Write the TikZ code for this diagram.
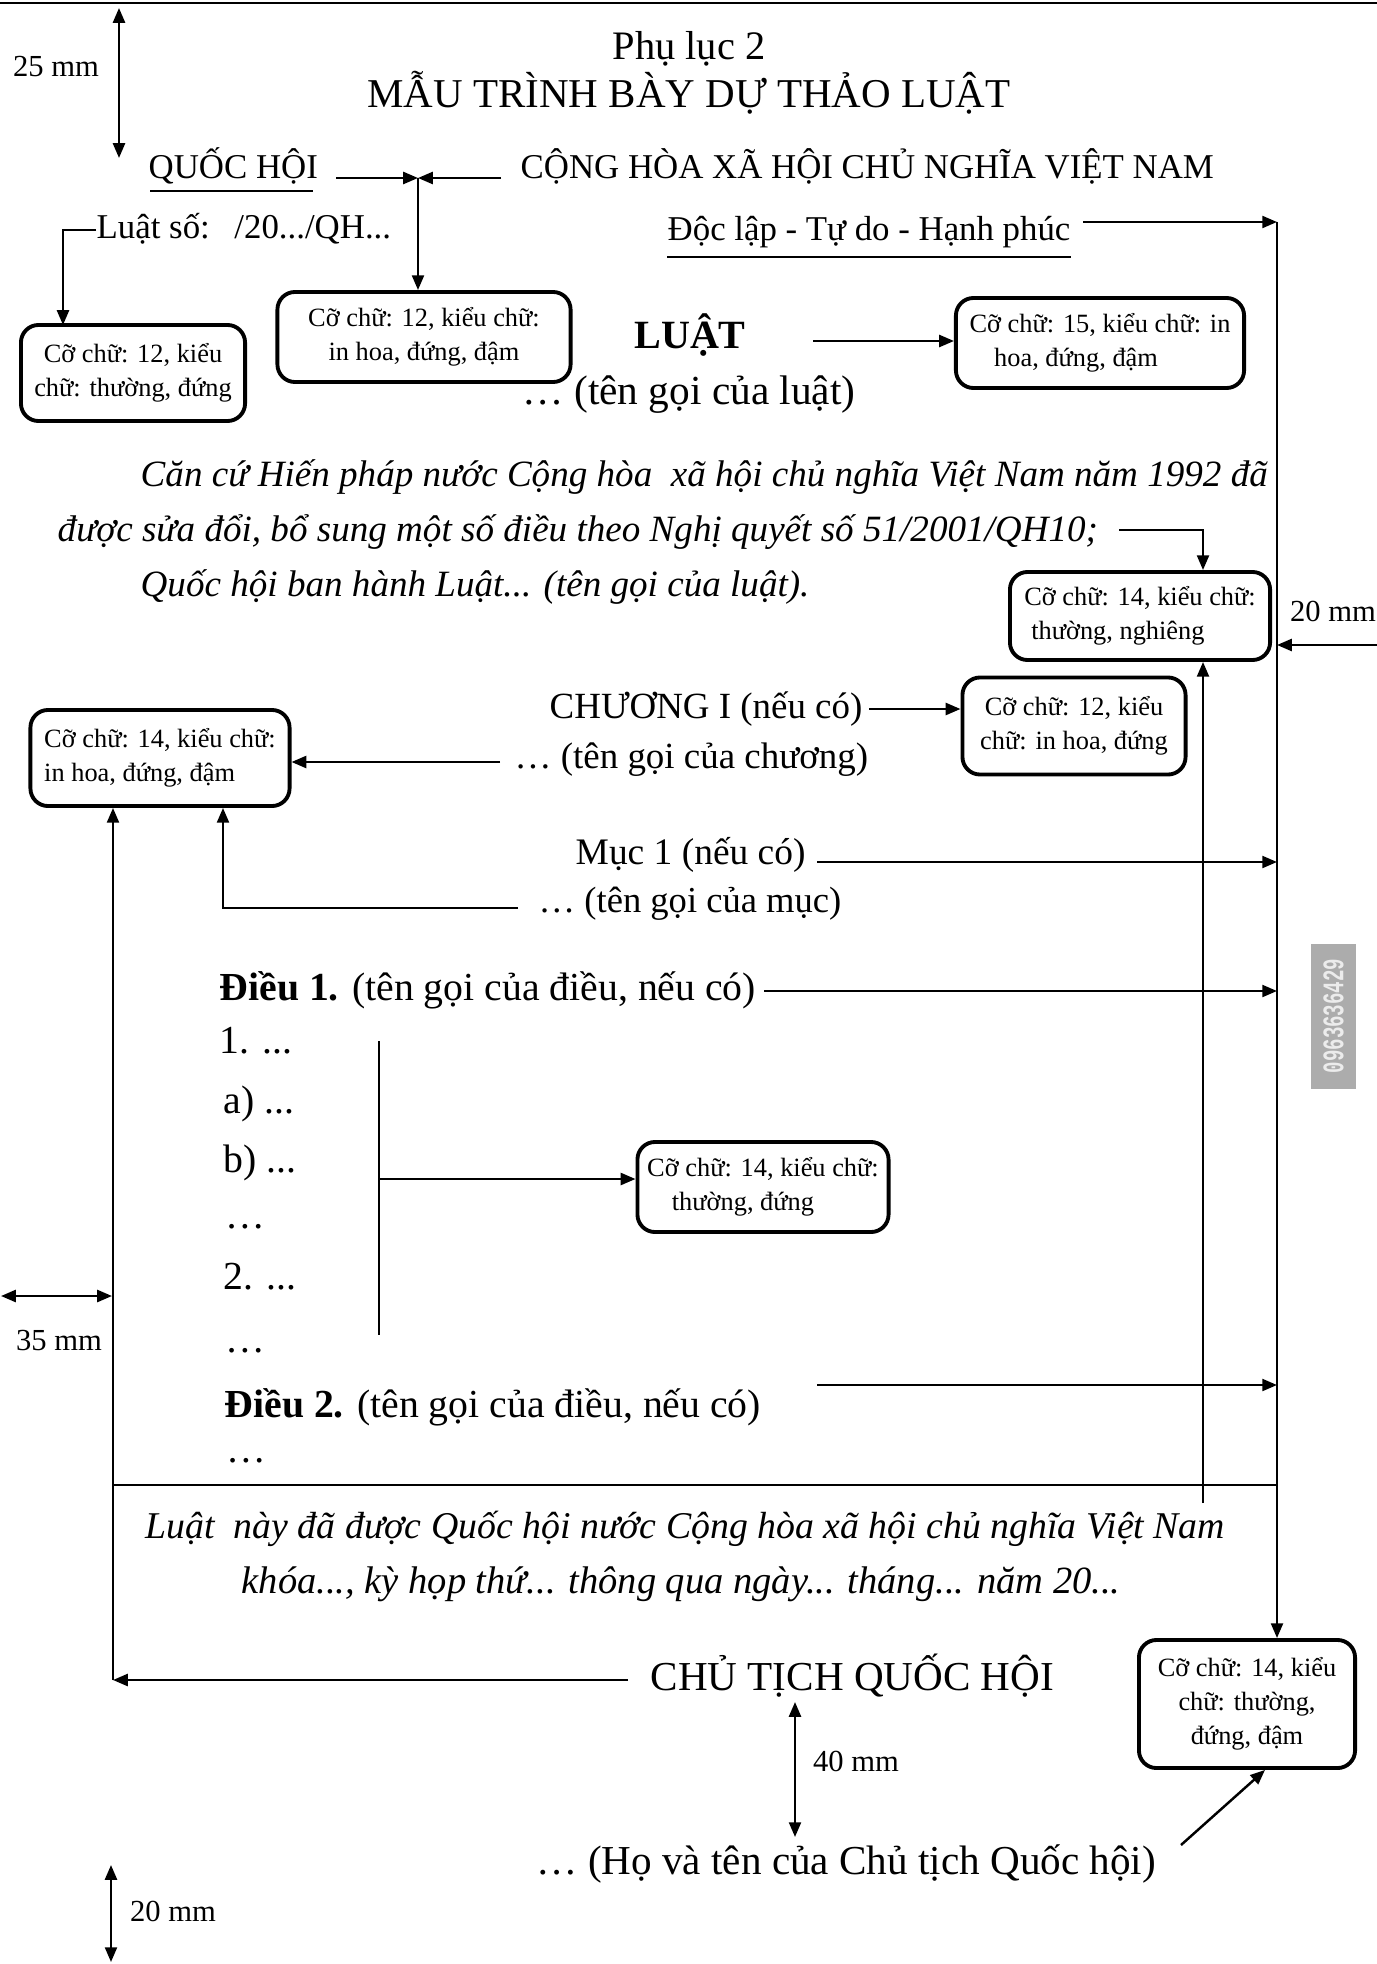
\documentclass[tikz,border=0pt]{standalone}
\usepackage{fontspec}
\usepackage{graphicx}
\setmainfont{Liberation Serif}
\newfontfamily\wmfont{Liberation Mono}
\usetikzlibrary{arrows.meta}
\begin{document}
\begin{tikzpicture}[x=0.01cm,y=-0.01cm,
  >={Triangle[length=4.2pt,width=3.4pt]},
  arr/.style={line width=0.7pt,->},
  darr/.style={line width=0.7pt,<->},
  ln/.style={line width=0.7pt},
  cbox/.style={draw,line width=1.1pt,rounded corners=5pt,inner sep=0pt,font=\fontsize{7.5}{9.6}\selectfont},
  hdr/.style={inner sep=0pt,font=\fontsize{9.9}{12}\selectfont},
  bd/.style={inner sep=0pt,font=\fontsize{11.3}{13}\selectfont},
  bds/.style={inner sep=0pt,font=\fontsize{10.5}{13}\selectfont},
  itx/.style={inner sep=0pt,font=\fontsize{10.55}{13}\selectfont\itshape},
  dim/.style={inner sep=0pt,font=\fontsize{8.7}{10}\selectfont},
]
\fill[white] (0,0) rectangle (1377,1964);
\useasboundingbox (0,0) rectangle (1377,1964);

% top rule
\draw[line width=0.8pt] (0,3) -- (1377,3);

% boxes
\node[cbox,minimum width=2.24cm,minimum height=0.96cm,align=center] (A) at (133,373) {Cỡ chữ: 12, kiểu\\chữ: thường, đứng};
\node[cbox,minimum width=2.93cm,minimum height=0.90cm,align=center] (B) at (424,337) {Cỡ chữ: 12, kiểu chữ:\\in hoa, đứng, đậm};
\node[cbox,minimum width=2.88cm,minimum height=0.90cm,align=left] (C) at (1100,343) {Cỡ chữ: 15, kiểu chữ: in\\\hspace*{7pt}hoa, đứng, đậm};
\node[cbox,minimum width=2.60cm,minimum height=0.88cm,align=left] (D) at (1140,616) {Cỡ chữ: 14, kiểu chữ:\\\hspace*{2pt}thường, nghiêng};
\node[cbox,minimum width=2.23cm,minimum height=0.97cm,align=center] (E) at (1074,726) {Cỡ chữ: 12, kiểu\\chữ: in hoa, đứng};
\node[cbox,minimum width=2.59cm,minimum height=0.96cm,align=left] (F) at (160,758) {Cỡ chữ: 14, kiểu chữ:\\in hoa, đứng, đậm};
\node[cbox,minimum width=2.51cm,minimum height=0.90cm,align=left] (H) at (763,1187) {Cỡ chữ: 14, kiểu chữ:\\\hspace*{7pt}thường, đứng};
\node[cbox,minimum width=2.16cm,minimum height=1.28cm,align=center] (G) at (1247,1704) {Cỡ chữ: 14, kiểu\\chữ: thường,\\đứng, đậm};

% header texts
\node[inner sep=0pt,font=\fontsize{11.5}{13}\selectfont,anchor=mid] (phuluc) at (689,51) {Phụ lục 2};
\node[inner sep=0pt,font=\fontsize{11.65}{13}\selectfont,anchor=mid] (title) at (689,99) {MẪU TRÌNH BÀY DỰ THẢO LUẬT};
\node[hdr,anchor=mid west] (qh) at (148,170) {QUỐC HỘI};
\draw[line width=0.6pt] (150,191) -- (313,191);
\node[hdr,anchor=mid west] (chxh) at (520,170) {CỘNG HÒA XÃ HỘI CHỦ NGHĨA VIỆT NAM};
\node[hdr,anchor=mid west] (lso) at (96,230) {Luật số:\hspace{7pt}/20.../QH...};
\node[hdr,anchor=mid west] (dl) at (667,232) {Độc lập - Tự do - Hạnh phúc};
\draw[line width=0.6pt] (667,257) -- (1071,257);

% dimension marks
\node[dim,anchor=mid] (t25) at (56,68) {25 mm};
\coordinate (m25t) at (119,8);
\coordinate (m25b) at (119,158);
\draw[darr] (m25t) -- (m25b);

% header connectors
\coordinate (j1) at (418,178);
\coordinate (qhA) at (336,178);
\coordinate (chA) at (501,178);
\draw[arr] (qhA) -- (j1);
\draw[arr] (chA) -- (j1);
\draw[arr] (j1) -- (j1 |- B.north);
\coordinate (aTop) at (63,325);
\draw[arr] (lso.mid west) -| (aTop);
\coordinate (dlA) at (1083,222);
\coordinate (cR1) at (1277,222);
\draw[arr] (dlA) -- (cR1);
\draw[arr] (cR1) -- (cR1 |- G.north);

% LUAT
\node[inner sep=0pt,anchor=mid,font=\fontsize{11.4}{13}\selectfont\bfseries] (luat) at (690,340) {LUẬT};
\coordinate (luatA) at (813,341);
\draw[arr] (luatA) -- (luatA -| C.west);
\node[inner sep=0pt,font=\fontsize{11.75}{13}\selectfont,anchor=mid] (tgl) at (689,396) {… (tên gọi của luật)};

% preamble lines
\node[itx,anchor=mid west] (cc1) at (140,478) {Căn cứ Hiến pháp nước Cộng hòa\ \ xã hội chủ nghĩa Việt Nam năm 1992 đã};
\node[itx,anchor=mid west] (cc2) at (57,533) {được sửa đổi, bổ sung một số điều theo Nghị quyết số 51/2001/QH10;};
\node[itx,anchor=mid west] (cc3) at (140,588) {Quốc hội ban hành Luật... (tên gọi của luật).};
\coordinate (ccA) at (1119,530);
\coordinate (vB) at (1203,1503);
\draw[arr] (ccA) -| (vB |- D.north);
\draw[arr] (vB) -- (vB |- D.south);

% 20 mm right
\node[dim,anchor=mid] (t20r) at (1333,613) {20 mm};
\coordinate (edgeR) at (1377,645);
\draw[arr] (edgeR) -- (edgeR -| cR1);

% chapter
\node[bds,anchor=mid west] (ch) at (549,710) {CHƯƠNG I (nếu có)};
\coordinate (chA2) at (869,709);
\draw[arr] (chA2) -- (chA2 -| E.west);
\node[bds,anchor=mid west] (tgc) at (514,760) {… (tên gọi của chương)};
\coordinate (tgcA) at (500,762);
\draw[arr] (tgcA) -- (tgcA -| F.east);

% section
\node[inner sep=0pt,font=\fontsize{10.65}{13}\selectfont,anchor=mid west] (muc) at (575,856) {Mục 1 (nếu có)};
\coordinate (mucA) at (817,862);
\draw[arr] (mucA) -- (mucA -| cR1);
\node[inner sep=0pt,font=\fontsize{10.4}{13}\selectfont,anchor=mid west] (tgm) at (538,904) {… (tên gọi của mục)};
\coordinate (tgmA) at (518,908);
\coordinate (colF2) at (223,0);
\draw[arr] (tgmA) -| (colF2 |- F.south);

% left line
\coordinate (lx) at (113,1680);
\draw[arr] (lx) -- (lx |- F.south);
\draw[ln] (113,1485) -- (1277,1485);

% articles
\node[bd,anchor=mid west] (d1) at (219,992) {\textbf{Điều 1.} (tên gọi của điều, nếu có)};
\coordinate (d1A) at (764,991);
\draw[arr] (d1A) -- (d1A -| cR1);
\node[bd,anchor=mid west] (i1) at (219,1045) {1. ...};
\node[bd,anchor=mid west] (ia) at (223,1105) {a) ...};
\node[bd,anchor=mid west] (ib) at (223,1164) {b) ...};
\node[bd,anchor=mid west] (ie1) at (225,1220) {…};
\node[bd,anchor=mid west] (i2) at (223,1281) {2. ...};
\node[bd,anchor=mid west] (ie2) at (225,1344) {…};
\node[bd,anchor=mid west] (d2) at (224,1409) {\textbf{Điều 2.} (tên gọi của điều, nếu có)};
\node[bd,anchor=mid west] (ie3) at (226,1454) {…};
\coordinate (d2A) at (817,1385);
\draw[arr] (d2A) -- (d2A -| cR1);
\coordinate (bt) at (379,1041);
\coordinate (bb) at (379,1335);
\draw[ln] (bt) -- (bb);
\coordinate (bm) at (379,1179);
\draw[arr] (bm) -- (bm -| H.west);

% 35 mm
\coordinate (l35a) at (1,1296);
\coordinate (l35b) at (112,1296);
\draw[darr] (l35a) -- (l35b);
\node[dim,anchor=mid] (t35) at (59,1342) {35 mm};

% closing
\node[inner sep=0pt,font=\fontsize{10.75}{13}\selectfont\itshape,anchor=mid west] (ln1) at (145,1530) {Luật\ \ này đã được Quốc hội nước Cộng hòa xã hội chủ nghĩa Việt Nam};
\node[inner sep=0pt,font=\fontsize{10.95}{13}\selectfont\itshape,anchor=mid west] (ln2) at (241,1585) {khóa..., kỳ họp thứ... thông qua ngày... tháng... năm 20...};
\node[inner sep=0pt,anchor=mid west,font=\fontsize{11.7}{13}\selectfont] (ct) at (650,1682) {CHỦ TỊCH QUỐC HỘI};
\coordinate (ctA) at (628,1680);
\draw[arr] (ctA) -- (lx);
\coordinate (m40t) at (795,1702);
\coordinate (m40b) at (795,1837);
\draw[darr] (m40t) -- (m40b);
\node[dim,anchor=mid] (t40) at (856,1763) {40 mm};
\node[inner sep=0pt,font=\fontsize{11.7}{13}\selectfont,anchor=mid west] (hvt) at (536,1866) {… (Họ và tên của Chủ tịch Quốc hội)};
\coordinate (hvtA) at (1181,1845);
\coordinate (gx) at (1265,0);
\draw[arr] (hvtA) -- (gx |- G.south);

% 20 mm bottom
\coordinate (b20t) at (111,1865);
\coordinate (b20b) at (111,1962);
\draw[darr] (b20t) -- (b20b);
\node[dim,anchor=mid] (t20b) at (173,1913) {20 mm};

% watermark
\fill[gray!65] (1311,944) rectangle (1356,1089);
\node[rotate=90,inner sep=0pt,text=white!85!gray,font=\wmfont\bfseries\fontsize{8.5}{9}\selectfont] (wm) at (1333.5,1016) {\scalebox{0.64}[1]{0963636429}};
\end{tikzpicture}
\end{document}
